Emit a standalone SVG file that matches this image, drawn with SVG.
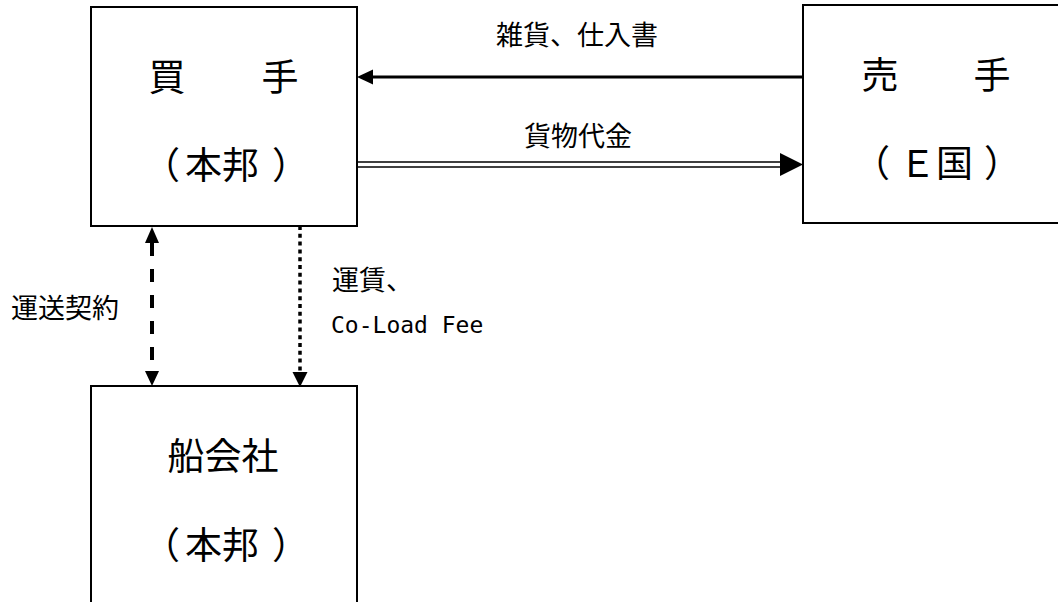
<svg xmlns="http://www.w3.org/2000/svg" width="1058" height="602" viewBox="0 0 1058 602">
<style>
.box{fill:#fff;stroke:#000;stroke-width:2}
.big{font-family:"Noto Sans CJK JP","Noto Sans",sans-serif;font-size:37px;fill:#000}
.lbl{font-family:"Noto Sans CJK JP","Noto Sans",sans-serif;font-size:27px;fill:#000}
.mono{font-family:"DejaVu Sans Mono","Liberation Mono",monospace;font-size:23px;fill:#000}
.ah{fill:#000}
</style>
<rect width="1058" height="602" fill="#fff"/>
<g id="buyer">
<rect class="box" x="91" y="7" width="266" height="219"/>
<text class="big" x="167" y="91" text-anchor="middle">買</text>
<text class="big" x="280" y="91" text-anchor="middle">手</text>
<text class="big" x="143" y="179">（</text>
<text class="big" x="222" y="179" text-anchor="middle">本邦</text>
<text class="big" x="272" y="179">）</text>
</g>
<g id="seller">
<rect class="box" x="803" y="5" width="300" height="218"/>
<text class="big" x="880" y="89" text-anchor="middle">売</text>
<text class="big" x="992" y="89" text-anchor="middle">手</text>
<text class="big" x="853" y="177">（</text>
<text class="big" x="936" y="177" text-anchor="middle">Ｅ国</text>
<text class="big" x="984" y="177">）</text>
</g>
<g id="shipping">
<rect class="box" x="91" y="386" width="266" height="260"/>
<text class="big" x="223" y="470" text-anchor="middle">船会社</text>
<text class="big" x="143" y="559">（</text>
<text class="big" x="222" y="559" text-anchor="middle">本邦</text>
<text class="big" x="272" y="559">）</text>
</g>
<g id="connectors">
<line x1="803" y1="77" x2="370" y2="77" stroke="#000" stroke-width="3"/>
<polygon class="ah" points="357,77 373,69.5 373,84.5"/>
<line x1="357" y1="162" x2="785" y2="162" stroke="#000" stroke-width="1.6"/>
<line x1="357" y1="167" x2="785" y2="167" stroke="#000" stroke-width="1.6"/>
<polygon class="ah" points="803,164.5 780,153 780,176"/>
<line x1="152" y1="243" x2="152" y2="372" stroke="#000" stroke-width="4" stroke-dasharray="13 13"/>
<polygon class="ah" points="152,227 145,243 159,243"/>
<polygon class="ah" points="152,386 145,371 159,371"/>
<line x1="300" y1="226" x2="300" y2="374" stroke="#000" stroke-width="3.5" stroke-dasharray="4 3.8"/>
<polygon class="ah" points="300,387 292.5,372 307.5,372"/>
</g>
<g id="labels">
<text class="lbl" x="496" y="45">雑貨、仕入書</text>
<text class="lbl" x="524" y="146">貨物代金</text>
<text class="lbl" x="11" y="318">運送契約</text>
<text class="lbl" x="332" y="290">運賃、</text>
<text class="mono" x="331" y="333">Co-Load Fee</text>
</g>
</svg>
